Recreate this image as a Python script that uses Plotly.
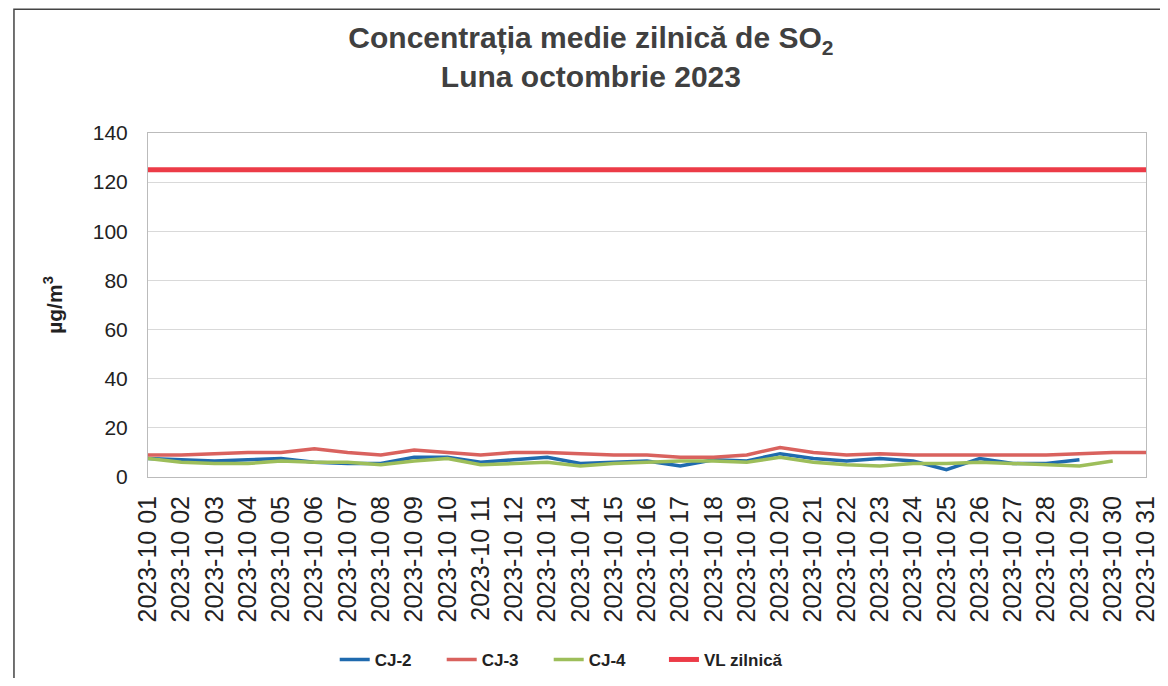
import plotly.graph_objects as go

# zile din octombrie 2023
days = ["2023-10 01", "2023-10 02", "2023-10 03", "2023-10 04", "2023-10 05",
        "2023-10 06", "2023-10 07", "2023-10 08", "2023-10 09", "2023-10 10",
        "2023-10 11", "2023-10 12", "2023-10 13", "2023-10 14", "2023-10 15",
        "2023-10 16", "2023-10 17", "2023-10 18", "2023-10 19", "2023-10 20",
        "2023-10 21", "2023-10 22", "2023-10 23", "2023-10 24", "2023-10 25",
        "2023-10 26", "2023-10 27", "2023-10 28", "2023-10 29", "2023-10 30",
        "2023-10 31"]

cj2 = [7.5, 7, 6.5, 7, 7.5, 6, 5.5, 5.5, 8, 8, 6, 7, 8, 5.5, 6, 6.5, 4.5, 7,
       6.5, 9.5, 7.5, 6.5, 7.5, 6.5, 3, 7.5, 5.5, 5.5, 7, None, None]
cj3 = [9, 9, 9.5, 10, 10, 11.5, 10, 9, 11, 10, 9, 10, 10, 9.5, 9, 9, 8, 8,
       9, 12, 10, 9, 9.5, 9, 9, 9, 9, 9, 9.5, 10, 10]
cj4 = [7.5, 6, 5.5, 5.5, 6.5, 6, 6, 5, 6.5, 7.5, 5, 5.5, 6, 4.5, 5.5, 6, 6.5,
       6.5, 6, 8, 6, 5, 4.5, 5.5, 5.5, 6, 5.5, 5, 4.5, 6.5, None]
vl = [125] * 31

fig = go.Figure()
fig.add_trace(go.Scatter(x=days, y=cj2, name="CJ-2", mode="lines",
                         line=dict(color="#1F6AAE", width=3.5)))
fig.add_trace(go.Scatter(x=days, y=cj3, name="CJ-3", mode="lines",
                         line=dict(color="#D9625E", width=3.5)))
fig.add_trace(go.Scatter(x=days, y=cj4, name="CJ-4", mode="lines",
                         line=dict(color="#9DBE5A", width=3.5)))
# valoarea limita intr-o legenda separata ca sa nu fie taiata
fig.add_trace(go.Scatter(x=days, y=vl, name="VL zilnică", mode="lines",
                         line=dict(color="#EC3B47", width=5), legend="legend2"))

legend_font = dict(size=17, color="#222", weight="bold")

# pagina are margine de 8px, deci figura e putin mai mica decat fereastra
fig.update_layout(
    width=1152, height=670,
    paper_bgcolor="white", plot_bgcolor="white",
    font=dict(family="Liberation Sans, Arial, sans-serif", color="#222"),
    margin=dict(l=140, r=14, t=125, b=201),
    title=dict(text="<b>Concentrația medie zilnică de SO<sub>2</sub><br>Luna octombrie 2023</b>",
               x=0.506, xref="container", y=0.94, yanchor="top",
               font=dict(size=30, color="#404040")),
    showlegend=True,
    legend=dict(orientation="h", xref="container", yref="container",
                x=0.2836, xanchor="left", y=0.027, yanchor="middle",
                font=legend_font, entrywidth=62, entrywidthmode="pixels",
                traceorder="normal"),
    legend2=dict(orientation="h", xref="container", yref="container",
                 x=0.5694, xanchor="left", y=0.027, yanchor="middle",
                 font=legend_font),
    shapes=[dict(type="rect", xref="paper", yref="paper",
                 x0=-0.1343, x1=1.03, y0=-0.7, y1=1.36,
                 line=dict(color="#444", width=1.5))],
)
fig.update_xaxes(type="category", tickangle=-90, tickfont=dict(size=25),
                 ticklabelstandoff=8, automargin=False,
                 showgrid=False, showline=True, linecolor="#bbb", mirror=True,
                 ticks="", range=[0, 30])
fig.update_yaxes(range=[0, 140], dtick=20, tickfont=dict(size=21),
                 ticklabelstandoff=15, automargin=False,
                 showgrid=True, gridcolor="#d9d9d9", showline=True, linecolor="#bbb",
                 mirror=True, zeroline=False,
                 title=dict(text="<b>µg/m<sup>3</sup></b>", font=dict(size=21), standoff=24))

fig.write_html("out.html")
